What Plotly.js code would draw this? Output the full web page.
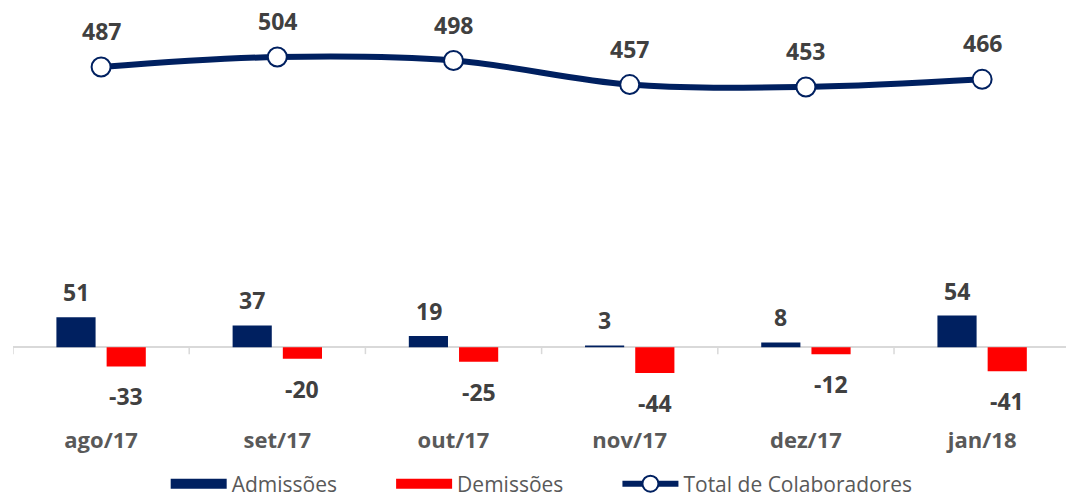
<!DOCTYPE html>
<html><head><meta charset="utf-8">
<script src="https://cdn.plot.ly/plotly-3.0.1.min.js"></script>
<style>html,body{margin:0;padding:0;background:#fff}#chart{width:1066px;height:499px}</style>
</head><body><div id="chart"></div>
<script>
const categories = ["ago/17","set/17","out/17","nov/17","dez/17","jan/18"];
const admissoes = [51, 37, 19, 3, 8, 54];
const demissoes = [-33, -20, -25, -44, -12, -41];
const totalColab = [487, 504, 498, 457, 453, 466];
const seriesNames = ["Admissões", "Demissões", "Total de Colaboradores"];

const FONT = "'Open Sans', 'Noto Sans', sans-serif";
const BLUE = '#002060', RED = '#ff0000';
const PAD = '\u00a0'.repeat(9);
const traces = [
  {type:'bar', name:seriesNames[0], x:categories, y:admissoes, marker:{color:BLUE}, offsetgroup:'a', yaxis:'y', hoverinfo:'skip', showlegend:false},
  {type:'bar', name:seriesNames[1], x:categories, y:demissoes, marker:{color:RED}, offsetgroup:'d', yaxis:'y', hoverinfo:'skip', showlegend:false},
  {type:'scatter', mode:'lines+markers', name:seriesNames[2], x:categories, y:totalColab, yaxis:'y2',
   line:{color:BLUE, width:6, shape:'spline', smoothing:1},
   marker:{size:19, color:'#ffffff', line:{color:BLUE, width:2}}, hoverinfo:'skip', legendrank:3},
  // legend keys for the bar series (wide rectangles like the original)
  {type:'scatter', mode:'lines', name:seriesNames[0] + PAD, x:[null], y:[null], line:{color:BLUE, width:14}, legendrank:1},
  {type:'scatter', mode:'lines', name:seriesNames[1] + PAD, x:[null], y:[null], line:{color:RED, width:14}, legendrank:2}
];

const annotations = [];
const lblFont = {family:FONT, size:23, color:'#404040', weight:700};
categories.forEach((c,i)=>{
  annotations.push({x:c, y:admissoes[i], xref:'x', yref:'y', text:String(admissoes[i]), showarrow:false, xshift:-25, yshift:25, font:lblFont});
  annotations.push({x:c, y:demissoes[i], xref:'x', yref:'y', text:String(demissoes[i]), showarrow:false, xshift:25, yshift:-30, font:lblFont});
  annotations.push({x:c, y:totalColab[i], xref:'x', yref:'y2', text:String(totalColab[i]), showarrow:false, yshift:36, font:lblFont});
});

const shapes = [];
for (let i=0;i<=categories.length;i++){
  shapes.push({type:'line', xref:'x', yref:'y', x0:i-0.5, x1:i-0.5, ysizemode:'pixel', yanchor:0, y0:0, y1:-7, line:{color:'#d9d9d9', width:1.5}});
}

const layout = {
  width:1066, height:499,
  margin:{l:13, r:0, t:0, b:0, autoexpand:false},
  paper_bgcolor:'#fff', plot_bgcolor:'#fff',
  barmode:'group', bargap:0.43, bargroupgap:0.22,
  showlegend:true,
  legend:{orientation:'h', x:0.145, xanchor:'left', y:0.03, yanchor:'middle', font:{family:FONT, size:21, color:'#595959'},
          traceorder:'normal', itemwidth:56},
  xaxis:{type:'category', range:[-0.5,5.476], showgrid:false, zeroline:false, showline:false, ticks:'', fixedrange:true, automargin:false,
         tickfont:{family:FONT, size:22, color:'#595959', weight:700}},
  yaxis:{domain:[0.1483,1], range:[-133,593], showgrid:false, zeroline:true, zerolinecolor:'#d9d9d9', zerolinewidth:1.5, showticklabels:false, ticks:'', showline:false, automargin:false},
  yaxis2:{range:[-121.9,600.9], overlaying:'y', side:'right', showgrid:false, zeroline:false, showticklabels:false, ticks:'', showline:false, automargin:false},
  annotations:annotations, shapes:shapes, font:{family:FONT}
};
Plotly.newPlot('chart', traces, layout, {displayModeBar:false, staticPlot:true});
</script></body></html>
